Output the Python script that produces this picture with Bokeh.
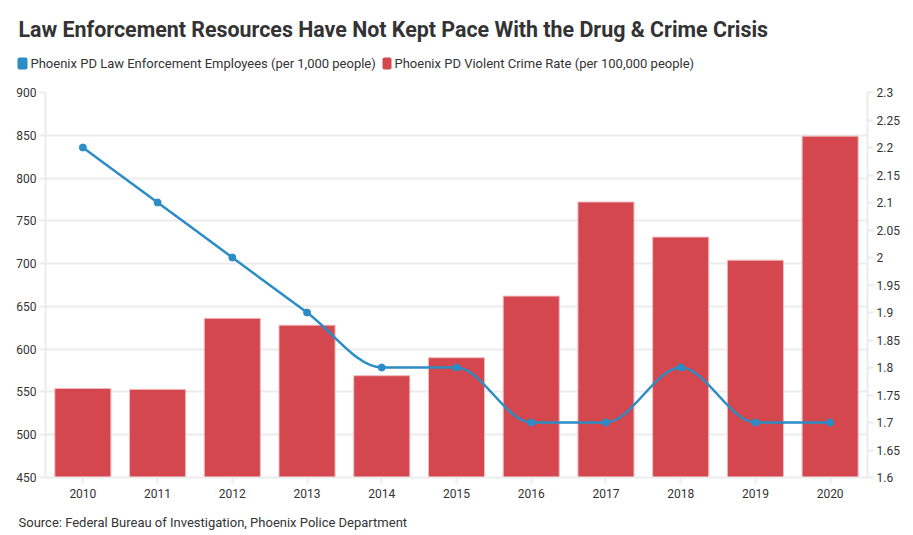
from bokeh.plotting import figure
from bokeh.layouts import column
from bokeh.models import (Range1d, LinearAxis, FixedTicker, Label,
                          CustomJSTickFormatter, ColumnDataSource)
from bokeh.embed import file_html
from bokeh.resources import INLINE

# ---------------- data ----------------
years = ["2010", "2011", "2012", "2013", "2014", "2015", "2016", "2017", "2018", "2019", "2020"]
employees_per_1000 = [2.2, 2.1, 2.0, 1.9, 1.8, 1.8, 1.7, 1.7, 1.8, 1.7, 1.7]
violent_crime_rate = [554, 553, 636, 628, 569, 590, 662, 772, 731, 704, 849]
left_ticks = [450, 500, 550, 600, 650, 700, 750, 800, 850, 900]
right_ticks = [1.6, 1.65, 1.7, 1.75, 1.8, 1.85, 1.9, 1.95, 2.0, 2.05, 2.1, 2.15, 2.2, 2.25, 2.3]

title_text = "Law Enforcement Resources Have Not Kept Pace With the Drug & Crime Crisis"
legend_blue = "Phoenix PD Law Enforcement Employees (per 1,000 people)"
legend_red = "Phoenix PD Violent Crime Rate (per 100,000 people)"
source_text = "Source: Federal Bureau of Investigation, Phoenix Police Department"

BLUE = "#2a8dc5"
RED = "#d4474e"
TXT = "#333333"
GRID = "#ececec"
FONT = "Roboto"
W = 913
HEAD_H = 80
FOOT_H = 30
MAIN_H = 535 - HEAD_H - FOOT_H

def blank_fig(h, y0, y1):
    f = figure(width=W, height=h, x_range=Range1d(0, W), y_range=Range1d(y1, y0),
               output_backend="svg", toolbar_location=None,
               x_axis_type=None, y_axis_type=None,
               min_border_left=0, min_border_right=0, min_border_top=0, min_border_bottom=0)
    f.grid.visible = False
    f.outline_line_color = None
    f.background_fill_color = "white"
    f.border_fill_color = "white"
    f.frame_align = False
    return f

# ---------------- header: title + legend ----------------
head = blank_fig(HEAD_H, 0, HEAD_H)
head.add_layout(Label(x=18, y=28.5, text=title_text, text_font=FONT, text_font_size="21.4px",
                      text_font_style="bold", text_color=TXT, text_baseline="middle"))
head.quad(left=[17], right=[27], top=[57], bottom=[69], fill_color=BLUE, line_color=None,
          border_radius=2)
head.add_layout(Label(x=30, y=62.8, text=legend_blue, text_font=FONT, text_font_size="13px",
                      text_color=TXT, text_baseline="middle"))
head.quad(left=[382], right=[391], top=[57], bottom=[69], fill_color=RED, line_color=None,
          border_radius=2)
head.add_layout(Label(x=394, y=62.8, text=legend_red, text_font=FONT, text_font_size="13px",
                      text_color=TXT, text_baseline="middle"))

# ---------------- main chart ----------------
p = figure(x_range=years, y_range=Range1d(450, 900), width=W, height=MAIN_H,
           output_backend="svg", toolbar_location=None,
           min_border_left=45, min_border_right=46,
           min_border_top=92 - HEAD_H, min_border_bottom=HEAD_H + MAIN_H - 477)
p.frame_align = False
p.extra_y_ranges = {"right": Range1d(1.6, 2.3)}
p.x_range.range_padding = 0
p.outline_line_color = None
p.background_fill_color = "white"
p.border_fill_color = "white"

p.xgrid.grid_line_color = None
p.ygrid.grid_line_color = GRID
p.ygrid.grid_line_width = 2
p.ygrid.ticker = FixedTicker(ticks=left_ticks)

def style_axis(ax):
    ax.axis_line_color = GRID
    ax.axis_line_width = 2
    ax.major_tick_line_color = GRID
    ax.major_tick_line_width = 2
    ax.major_tick_out = 6
    ax.major_tick_in = 0
    ax.minor_tick_line_color = None
    ax.major_label_text_font = FONT
    ax.major_label_text_font_size = "12px"
    ax.major_label_text_color = TXT
    ax.major_label_standoff = 3

style_axis(p.yaxis[0])
p.yaxis[0].ticker = FixedTicker(ticks=left_ticks)
style_axis(p.xaxis[0])
p.xaxis[0].major_label_standoff = 5

right_axis = LinearAxis(y_range_name="right", ticker=FixedTicker(ticks=right_ticks),
                        formatter=CustomJSTickFormatter(code="return String(Math.round(tick*100)/100);"))
style_axis(right_axis)
p.add_layout(right_axis, "right")

src = ColumnDataSource(dict(year=years, crime=violent_crime_rate, emp=employees_per_1000))
p.vbar(x="year", top="crime", bottom=450, width=0.75, source=src,
       fill_color=RED, line_color="#f0b8bb", line_width=1)

# smooth monotone line (d3 monotoneX style) drawn as Bezier segments
xs = [i + 0.5 for i in range(len(years))]
ys = employees_per_1000
n = len(xs)
def sgn(v):
    return (v > 0) - (v < 0)
t = [0.0] * n
for i in range(1, n - 1):
    h0 = xs[i] - xs[i - 1]; h1 = xs[i + 1] - xs[i]
    s0 = (ys[i] - ys[i - 1]) / h0; s1 = (ys[i + 1] - ys[i]) / h1
    pp = (s0 * h1 + s1 * h0) / (h0 + h1)
    t[i] = (sgn(s0) + sgn(s1)) * min(abs(s0), abs(s1), 0.5 * abs(pp))
t[0] = (3 * (ys[1] - ys[0]) / (xs[1] - xs[0]) - t[1]) / 2
t[-1] = (3 * (ys[-1] - ys[-2]) / (xs[-1] - xs[-2]) - t[-2]) / 2
bz = dict(x0=[], y0=[], x1=[], y1=[], cx0=[], cy0=[], cx1=[], cy1=[])
for i in range(n - 1):
    dx = (xs[i + 1] - xs[i]) / 3
    bz["x0"].append(xs[i]); bz["y0"].append(ys[i])
    bz["x1"].append(xs[i + 1]); bz["y1"].append(ys[i + 1])
    bz["cx0"].append(xs[i] + dx); bz["cy0"].append(ys[i] + dx * t[i])
    bz["cx1"].append(xs[i + 1] - dx); bz["cy1"].append(ys[i + 1] - dx * t[i + 1])
p.bezier(x0="x0", y0="y0", x1="x1", y1="y1", cx0="cx0", cy0="cy0", cx1="cx1", cy1="cy1",
         source=ColumnDataSource(bz), line_color=BLUE, line_width=2.5, y_range_name="right")
p.scatter(x="year", y="emp", source=src, size=7, fill_color=BLUE, line_color=BLUE,
          y_range_name="right")

# ---------------- footer: source ----------------
foot = blank_fig(FOOT_H, 535 - FOOT_H, 535)
foot.add_layout(Label(x=18, y=521.5, text=source_text, text_font=FONT, text_font_size="13px",
                      text_color=TXT, text_baseline="middle"))

layout = column(head, p, foot, spacing=0)
open("out.html", "w").write(file_html(layout, INLINE))
